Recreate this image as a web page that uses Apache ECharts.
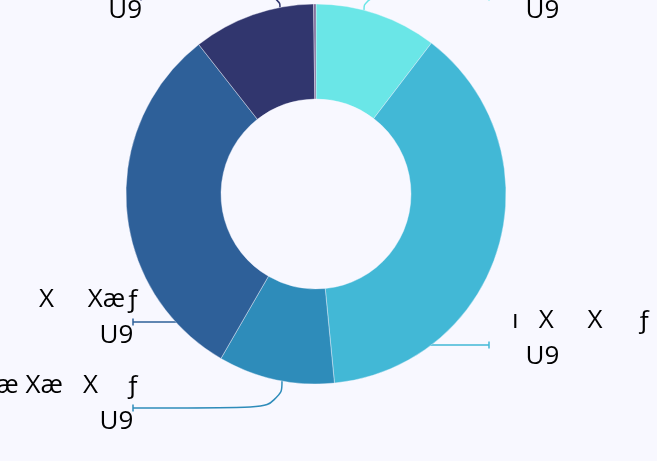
<!DOCTYPE html>
<html>
<head>
<meta charset="utf-8">
<style>
html,body{margin:0;padding:0;background:#f8f8ff;}
#main{width:657px;height:461px;}
</style>
<script src="https://cdn.jsdelivr.net/npm/echarts@6/dist/echarts.min.js"></script>
</head>
<body>
<div id="main"></div>
<script>
// ---- data ----
const categories = ['X   Xæƒ', 'ı   X     X     ƒ', 'æ Xæ   X    ƒ', 'X     Xæƒ', 'æ  X   ƒ', 'ƒ'];
const values = [10.4, 38.1, 9.9, 31.1, 10.4, 0.2];
const valueTexts = ['  U9', '  U9', 'U9 ', 'U9 ', 'U9', ''];

// ---- styles / layout ----
const colors = ['#6ae6e7', '#42b8d6', '#2e8cba', '#2e6099', '#31366e', '#7a6796'];
const pieCenter = [316, 194];
const pieRadius = [95, 190];
const labelPlace = [
  {x: 512, y: -7,  align: 'left',  lineX: 489, lineY: -3,  len2: 125},
  {x: 512, y: 339, align: 'left',  lineX: 489, lineY: 345, len2: 70},
  {x: 140, y: 404, align: 'right', lineX: 133, lineY: 408, len2: 149},
  {x: 140, y: 318, align: 'right', lineX: 133, lineY: 322, len2: 50},
  {x: 142, y: -7,  align: 'right', lineX: 141, lineY: -3,  len2: 139},
  {x: 400, y: -80, align: 'left',  lineX: 400, lineY: -80, len2: 10}
];

function guidePoints(i) {
  const lp = labelPlace[i];
  const dir = lp.align === 'right' ? 1 : -1;
  const A = [lp.lineX, lp.lineY];
  const B = [lp.lineX + dir * lp.len2, lp.lineY];
  const dx = B[0] - pieCenter[0], dy = B[1] - pieCenter[1];
  const R = pieRadius[1];
  if (dx * dx + dy * dy <= R * R || Math.abs(dx) >= R) return [B, B, A];
  // drop from the outer edge straight toward the label row
  const h = Math.sqrt(R * R - dx * dx);
  const P = [B[0], pieCenter[1] + (dy > 0 ? h : -h)];
  return [P, B, A];
}

const chart = echarts.init(document.getElementById('main'), null, {renderer: 'canvas'});
const data = categories.map((name, i) => ({
  name: name,
  value: values[i],
  itemStyle: {color: colors[i]},
  label: {show: valueTexts[i] !== ''},
  labelLine: {show: valueTexts[i] !== ''}
}));

const ticks = labelPlace.map((lp, i) => ({
  type: 'line',
  silent: true,
  invisible: valueTexts[i] === '',
  shape: {x1: lp.lineX, y1: lp.lineY - 3.5, x2: lp.lineX, y2: lp.lineY + 3.5},
  style: {stroke: colors[i], lineWidth: 1.5},
  z: 10
}));

chart.setOption({
  backgroundColor: '#f8f8ff',
  animation: false,
  graphic: ticks,
  series: [{
    type: 'pie',
    center: pieCenter,
    radius: pieRadius,
    startAngle: 90,
    clockwise: true,
    avoidLabelOverlap: false,
    itemStyle: {borderColor: '#f8f8ff', borderWidth: 0.4},
    label: {
      position: 'outside',
      color: '#000',
      fontFamily: 'Open Sans',
      fontSize: 26,
      lineHeight: 36,
      formatter: function (p) { return p.name + '\n' + valueTexts[p.dataIndex]; }
    },
    labelLine: {
      show: true,
      smooth: 0.6,
      lineStyle: {width: 1.5}
    },
    labelLayout: function (p) {
      const lp = labelPlace[p.dataIndex];
      return {x: lp.x, y: lp.y, align: lp.align, verticalAlign: 'middle', labelLinePoints: guidePoints(p.dataIndex)};
    },
    data: data
  }]
});
</script>
</body>
</html>
